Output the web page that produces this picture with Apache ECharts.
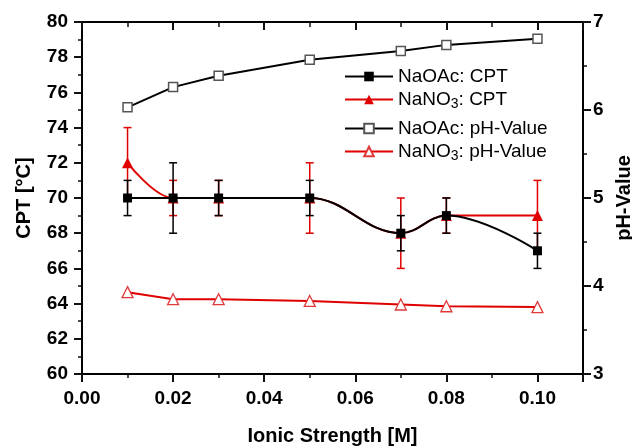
<!DOCTYPE html>
<html><head><meta charset="utf-8">
<script src="https://cdn.jsdelivr.net/npm/echarts@6/dist/echarts.min.js"></script>
<style>html,body{margin:0;padding:0;background:#fff}#c{width:632px;height:446px}</style>
</head><body><div id="c"></div>
<script>
// ---- data ----
const ionic = [0.01, 0.02, 0.03, 0.05, 0.07, 0.08, 0.10];
const naoacCPT = [70, 70, 70, 70, 68, 69, 67];
const naoacErr = [1, 2, 1, 1, 1, 1, 1];
const nano3CPT = [72, 70, 70, 70, 68, 69, 69];
const nano3Err = [2, 1, 1, 2, 2, 1, 2];
const naoacPH = [6.03, 6.26, 6.39, 6.57, 6.67, 6.74, 6.81];
const nano3PH = [3.93, 3.85, 3.85, 3.83, 3.79, 3.77, 3.76];
const seriesNames = ['NaOAc: CPT', 'NaNO3: CPT', 'NaOAc: pH-Value', 'NaNO3: pH-Value'];
const xTitle = 'Ionic Strength [M]';
const yTitle = 'CPT [°C]';
const y2Title = 'pH-Value';

const FF = '"Liberation Sans", Arial, sans-serif';
const RED = '#e00000';
const INK = '#111';
const chart = echarts.init(document.getElementById('c'));

function pairs(xs, ys) { return xs.map((x, i) => [x, ys[i]]); }
function errSeries(vals, errs, color, z) {
  return {
    type: 'custom', xAxisIndex: 0, yAxisIndex: 0, z: z, silent: true,
    encode: { x: 0, y: [1, 2] },
    data: ionic.map((x, i) => [x, vals[i] - errs[i], vals[i] + errs[i]]),
    renderItem(params, api) {
      const lo = api.coord([api.value(0), api.value(1)]);
      const hi = api.coord([api.value(0), api.value(2)]);
      const w = 4, st = { stroke: color, lineWidth: 1.5 };
      return { type: 'group', children: [
        { type: 'line', shape: { x1: lo[0], y1: lo[1], x2: hi[0], y2: hi[1] }, style: st },
        { type: 'line', shape: { x1: lo[0] - w, y1: lo[1], x2: lo[0] + w, y2: lo[1] }, style: st },
        { type: 'line', shape: { x1: hi[0] - w, y1: hi[1], x2: hi[0] + w, y2: hi[1] }, style: st }
      ]};
    }
  };
}

const tickLabel = { fontFamily: FF, fontSize: 19, fontWeight: 'bold', color: '#000' };
const axLine = { show: true, onZero: false, lineStyle: { color: '#000', width: 2 } };

function xAx(opts) {
  return Object.assign({
    type: 'value', min: 0, max: 0.11, splitLine: { show: false },
    axisLine: axLine
  }, opts);
}

function legendAt(names, top) {
  return {
    data: names, orient: 'vertical', left: 344, top: top, padding: 0,
    itemWidth: 48, itemHeight: 12, itemGap: 4,
    textStyle: { fontFamily: FF, fontSize: 19, color: '#000',
      rich: { s: { fontFamily: FF, fontSize: 14, color: '#000', padding: [10, 0, 0, 0] } } },
    formatter: n => n.replace('NaNO3', 'NaNO{s|3}')
  };
}

const option = {
  animation: false,
  backgroundColor: '#fff',
  grid: { left: 82, right: 49, top: 22, bottom: 72, containLabel: false, outerBoundsMode: 'none' },
  legend: [
    legendAt([seriesNames[0], seriesNames[1]], 67),
    legendAt([seriesNames[2], seriesNames[3]], 119)
  ],
  xAxis: [
    xAx({ position: 'bottom', interval: 0.02,
      name: xTitle, nameLocation: 'middle', nameGap: 52,
      nameTextStyle: { fontFamily: FF, fontSize: 20, fontWeight: 'bold', color: '#000' },
      axisTick: { show: true, inside: false, length: 8, lineStyle: { color: INK, width: 2 } },
      axisLabel: Object.assign({ margin: 15, formatter: v => (v > 0.105 ? '' : v.toFixed(2)) }, tickLabel) }),
    xAx({ position: 'bottom', interval: 0.01, axisLine: { show: false, onZero: false },
      axisTick: { show: true, inside: false, length: 4, lineStyle: { color: INK, width: 1.5 } },
      axisLabel: { show: false } }),
    xAx({ position: 'top', interval: 0.02,
      axisTick: { show: true, inside: true, length: 8, lineStyle: { color: INK, width: 2 } },
      axisLabel: { show: false } }),
    xAx({ position: 'top', interval: 0.01, axisLine: { show: false, onZero: false },
      axisTick: { show: true, inside: true, length: 5, lineStyle: { color: INK, width: 1.5 } },
      axisLabel: { show: false } })
  ],
  yAxis: [
    { type: 'value', position: 'left', min: 60, max: 80, interval: 2,
      name: yTitle, nameLocation: 'middle', nameGap: 48, nameRotate: 90,
      nameTextStyle: { fontFamily: FF, fontSize: 20, fontWeight: 'bold', color: '#000' },
      splitLine: { show: false }, axisLine: axLine,
      axisTick: { show: true, length: 8, lineStyle: { color: INK, width: 2 } },
      minorTick: { show: true, splitNumber: 2, length: 4, lineStyle: { color: INK, width: 1.5 } },
      axisLabel: Object.assign({ margin: 14 }, tickLabel) },
    { type: 'value', position: 'right', min: 3, max: 7, interval: 1,
      name: y2Title, nameLocation: 'middle', nameGap: 27, nameRotate: 90,
      nameTextStyle: { fontFamily: FF, fontSize: 20, fontWeight: 'bold', color: '#000' },
      splitLine: { show: false }, axisLine: axLine,
      axisTick: { show: true, length: 8, lineStyle: { color: INK, width: 2 } },
      minorTick: { show: true, splitNumber: 2, length: 4, lineStyle: { color: INK, width: 1.5 } },
      axisLabel: Object.assign({ margin: 10 }, tickLabel) }
  ],
  series: [
    errSeries(nano3CPT, nano3Err, RED, 2),
    { name: seriesNames[1], type: 'line', xAxisIndex: 0, yAxisIndex: 0, z: 3,
      data: pairs(ionic, nano3CPT), smooth: 0.4, smoothMonotone: 'x',
      symbol: 'triangle', symbolSize: 11,
      lineStyle: { color: RED, width: 2 }, itemStyle: { color: RED } },
    errSeries(naoacCPT, naoacErr, '#000', 4),
    { name: seriesNames[0], type: 'line', xAxisIndex: 0, yAxisIndex: 0, z: 5,
      data: pairs(ionic, naoacCPT), smooth: 0.4, smoothMonotone: 'x',
      symbol: 'rect', symbolSize: 9,
      lineStyle: { color: '#000', width: 2 }, itemStyle: { color: '#000' } },
    { name: seriesNames[2], type: 'line', xAxisIndex: 0, yAxisIndex: 1, z: 5,
      data: pairs(ionic, naoacPH),
      symbol: 'rect', symbolSize: 9,
      lineStyle: { color: '#000', width: 2 },
      itemStyle: { color: '#fff', borderColor: '#555', borderWidth: 1.5 } },
    { name: seriesNames[3], type: 'line', xAxisIndex: 0, yAxisIndex: 1, z: 5,
      data: pairs(ionic, nano3PH),
      symbol: 'triangle', symbolSize: 11,
      lineStyle: { color: RED, width: 2 },
      itemStyle: { color: '#fff', borderColor: '#e03a3a', borderWidth: 1.3 } }
  ]
};
chart.setOption(option);
</script>
</body></html>
